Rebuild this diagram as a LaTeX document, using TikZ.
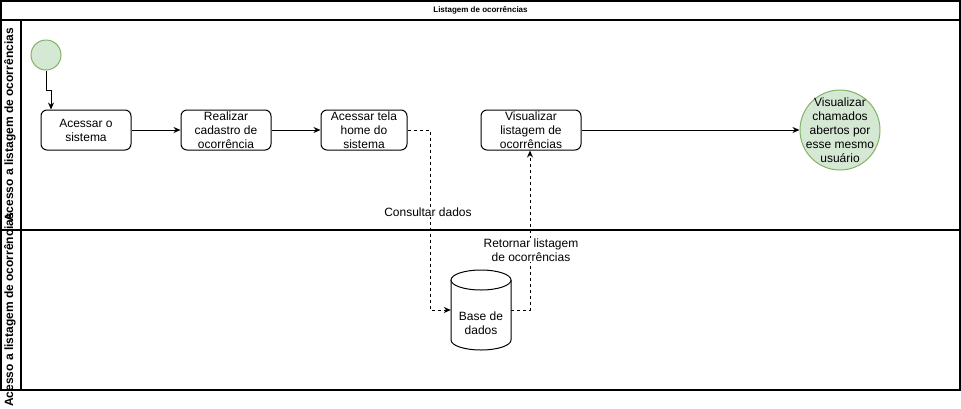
\documentclass[tikz,border=0pt]{standalone}
\usepackage{fontspec}
\setmainfont{Liberation Sans}
\usetikzlibrary{arrows.meta}
\definecolor{gfill}{HTML}{D5E8D4}
\definecolor{gdraw}{HTML}{82B366}
\begin{document}
\begin{tikzpicture}[x=1pt,y=-1pt,
  frame/.style={draw=black,line width=1.1pt},
  task/.style={draw=black,line width=1pt,rounded corners=6pt,fill=white,
    minimum width=90pt,minimum height=40pt,align=center,inner sep=1pt,
    font=\fontsize{12}{14}\selectfont},
  conn/.style={draw=black,line width=1pt,-{Stealth[length=7pt,width=6pt]}},
  dconn/.style={conn,dash pattern=on 3pt off 3pt},
  lbl/.style={fill=white,inner sep=1pt,align=center,font=\fontsize{12}{14}\selectfont},
  lanelbl/.style={rotate=90,font=\bfseries\fontsize{12}{14}\selectfont,inner sep=0pt}
]
\useasboundingbox (0,0) rectangle (961,408);
\fill[white] (0,0) rectangle (961,408);
% frame
\draw[frame] (1,1) rectangle (960,390);
\draw[frame] (1,20) -- (960,20);
\draw[frame] (1,230) -- (960,230);
\draw[frame] (21,20) -- (21,390);
\node[font=\bfseries\fontsize{8}{10}\selectfont] (title) at (480.5,10.5) {Listagem de ocorrências};
\node[lanelbl] (lane1) at (10,125) {Acesso a listagem de ocorrências};
\node[lanelbl] (lane2) at (10,310) {Acesso a listagem de ocorrências};
% nodes
\node[circle,draw=gdraw,fill=gfill,line width=1pt,minimum size=30pt,inner sep=0pt] (start) at (46,55) {};
\node[task] (t1) at (86,130) {Acessar o\\sistema};
\node[task] (t2) at (226,130) {Realizar\\cadastro de\\ocorrência};
\node[task,minimum width=86pt] (t3) at (364,130) {Acessar tela\\home do\\sistema};
\node[task,minimum width=100pt] (t4) at (531,130) {Visualizar\\listagem de\\ocorrências};
\node[circle,draw=gdraw,fill=gfill,line width=1pt,minimum size=80pt,inner sep=0pt] (endc) at (840,130) {};
\node[align=center,inner sep=0pt,font=\fontsize{12}{14}\selectfont] (endtext) at (840,130) {Visualizar\\chamados\\abertos por\\esse mesmo\\usuário};
% cylinder
\node[minimum width=60pt,minimum height=80pt,inner sep=0pt] (db) at (481,310) {};
\draw[line width=1pt,fill=white] (451,280) -- (451,340) arc[start angle=180,end angle=0,x radius=30,y radius=10] -- (511,280);
\draw[line width=1pt,fill=white] (481,280) ellipse[x radius=30,y radius=10];
\node[align=center,font=\fontsize{12}{14}\selectfont] (dbtext) at (481,323) {Base de\\dados};
% connectors
\coordinate (s1) at (46,90);
\coordinate (s2) at (51,90);
\draw[conn] (start.south) -- (s1) -- (s2) -- (t1.north -| s2);
\draw[conn] (t1) -- (t2);
\draw[conn] (t2) -- (t3);
\draw[conn] (t4) -- (endc);
\coordinate (c1) at (430,130);
\coordinate (c2) at (430,310);
\draw[dconn] (t3.east) -- (c1) -- (c2) -- (db.west);
\node[lbl] (l1) at (428,212) {Consultar dados};
\coordinate (r1) at (530,310);
\draw[dconn] (db.east) -- (r1) -- (t4.south -| r1);
\node[lbl] (l2) at (531,250) {Retornar listagem\\de ocorrências};
\end{tikzpicture}
\end{document}
